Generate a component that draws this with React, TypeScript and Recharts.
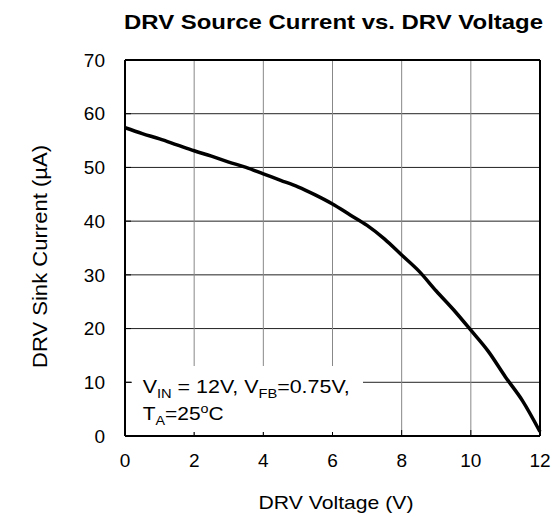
import React from "react";
import {
  LineChart,
  Line,
  XAxis,
  YAxis,
  CartesianGrid,
  ReferenceLine,
} from "recharts";

/* ============================================================
   DATA — DRV source current vs DRV voltage
   ============================================================ */

const voltage = [
  0, 0.5, 1, 1.5, 2, 2.5, 3, 3.5, 4, 4.5, 5, 5.5, 6, 6.5, 7, 7.5, 8, 8.5, 9,
  9.5, 10, 10.5, 11, 11.5, 12,
];
const currentUA = [
  57.4, 56.3, 55.3, 54.2, 53.1, 52.1, 51.0, 50.0, 48.8, 47.6, 46.4, 44.9, 43.2,
  41.2, 39.2, 36.7, 33.7, 30.7, 27.0, 23.5, 19.7, 15.8, 11.0, 6.5, 0.8,
];
const xTicks = [0, 2, 4, 6, 8, 10, 12];
const yTicks = [0, 10, 20, 30, 40, 50, 60, 70];

const data = voltage.map((v, i) => ({ v, i: currentUA[i] }));

const FONT = "'Liberation Sans', Arial, Helvetica, sans-serif";
const W = 557;
const H = 517;

export default function App() {
  return (
    <div
      style={{
        position: "absolute",
        left: 0,
        top: 0,
        width: W,
        height: H,
        background: "#fff",
        fontFamily: FONT,
      }}
    >
      <LineChart
        width={W}
        height={H}
        data={data}
        margin={{ top: 60, right: 17, bottom: 41, left: 65 }}
      >
        {/* horizontal grid is dark, vertical grid lighter */}
        <CartesianGrid vertical={false} stroke="#222" strokeWidth={1} />
        <CartesianGrid horizontal={false} stroke="#888" strokeWidth={1} />
        <XAxis
          dataKey="v"
          type="number"
          domain={[0, 12]}
          ticks={xTicks}
          height={40}
          tickSize={-6}
          tickMargin={24}
          tick={{ fill: "#000", fontSize: 19, fontFamily: FONT }}
          tickLine={{ stroke: "#000", strokeWidth: 1 }}
          axisLine={{ stroke: "#000", strokeWidth: 2 }}
        />
        <YAxis
          type="number"
          domain={[0, 70]}
          ticks={yTicks}
          width={60}
          tickSize={-6}
          tickMargin={26}
          tick={{ fill: "#000", fontSize: 19, fontFamily: FONT }}
          tickLine={{ stroke: "#000", strokeWidth: 1 }}
          axisLine={{ stroke: "#000", strokeWidth: 2 }}
        />
        <ReferenceLine y={70} stroke="#000" strokeWidth={2} />
        <ReferenceLine x={12} stroke="#000" strokeWidth={2} />
        <Line
          type="monotone"
          dataKey="i"
          stroke="#000"
          strokeWidth={3.5}
          dot={false}
          isAnimationActive={false}
        />
      </LineChart>

      <svg
        width={W}
        height={H}
        style={{ position: "absolute", left: 0, top: 0, pointerEvents: "none" }}
      >
        {/* annotation box hides the grid behind the conditions text */}
        <rect x={132} y={366} width={231} height={66} fill="#fff" />
        <text x={142.7} y={393} fontFamily={FONT} fontSize={19}
          textLength={207} lengthAdjust="spacingAndGlyphs">
          V<tspan fontSize={13} dy={5}>IN</tspan>
          <tspan dy={-5}> = 12V, V</tspan>
          <tspan fontSize={13} dy={5}>FB</tspan>
          <tspan dy={-5}>=0.75V,</tspan>
        </text>
        <text x={142.7} y={420} fontFamily={FONT} fontSize={19}
          textLength={81} lengthAdjust="spacingAndGlyphs">
          T<tspan fontSize={13} dy={5}>A</tspan>
          <tspan dy={-5}>=25</tspan>
          <tspan fontSize={13} dy={-7}>o</tspan>
          <tspan dy={7}>C</tspan>
        </text>

        <text
          x={333.5}
          y={28.5}
          textAnchor="middle"
          fontFamily={FONT}
          fontWeight="bold"
          fontSize={21}
          textLength={419}
          lengthAdjust="spacingAndGlyphs"
        >
          DRV Source Current vs. DRV Voltage
        </text>
        <text
          x={336}
          y={509}
          textAnchor="middle"
          fontFamily={FONT}
          fontSize={19}
          textLength={155}
          lengthAdjust="spacingAndGlyphs"
        >
          DRV Voltage (V)
        </text>
        <text
          transform="translate(46.5, 256.5) rotate(-90)"
          textAnchor="middle"
          fontFamily={FONT}
          fontSize={21}
          textLength={223}
          lengthAdjust="spacingAndGlyphs"
        >
          DRV Sink Current (µA)
        </text>
      </svg>
    </div>
  );
}
